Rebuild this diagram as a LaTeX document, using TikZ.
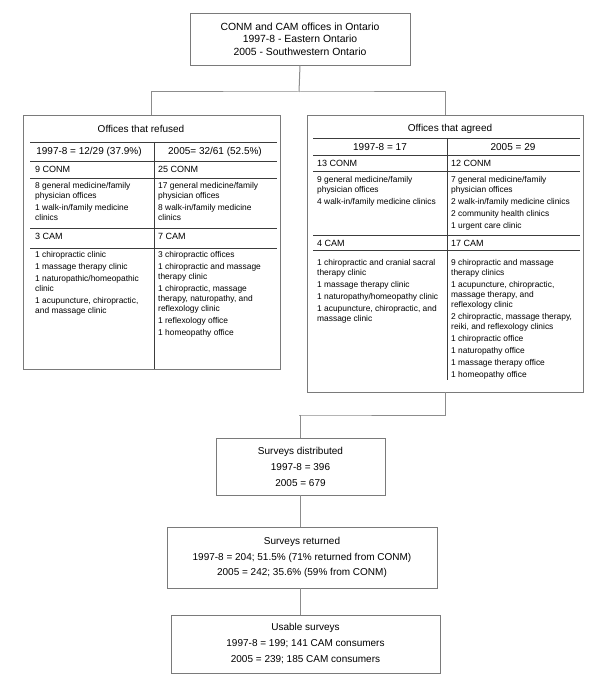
\documentclass[tikz,border=0pt]{standalone}
\usepackage{fontspec}
\setmainfont{Liberation Sans}
\definecolor{bordergray}{HTML}{7A7A7A}
\definecolor{rulegray}{HTML}{3C3C3C}
\definecolor{conngray}{HTML}{8C8C8C}
\tikzset{
  box/.style={draw=bordergray, line width=0.8pt},
  conn/.style={draw=conngray, line width=1pt},
  rulel/.style={draw=rulegray, line width=0.7pt},
  body/.style={font=\fontsize{8.4}{10}\selectfont, align=left, anchor=north west, inner sep=0pt},
  head/.style={font=\fontsize{10}{12}\selectfont, inner sep=0pt},
  sub/.style={font=\fontsize{9}{11}\selectfont, anchor=west, inner sep=0pt},
}
\begin{document}
\begin{tikzpicture}[x=1pt,y=-1pt]
\useasboundingbox (0,0) rectangle (600,692);

% top box
\node[box, minimum width=220, minimum height=52, align=center,
      font=\fontsize{10.4}{12.5}\selectfont] (top) at (300,39)
  {CONM and CAM offices in Ontario\\1997-8 - Eastern Ontario\\2005 - Southwestern Ontario};

% left table
\node[box, minimum width=257, minimum height=254] (left) at (151.5,242) {};
\draw[rulel] (30,142) -- (277,142);
\draw[rulel] (30,161) -- (277,161);
\draw[rulel] (30,178) -- (277,178);
\draw[rulel] (30,228) -- (277,228);
\draw[rulel] (30,248) -- (277,248);
\draw[rulel] (154,142) -- (154,369);
\node[head] (ltitle) at (141,129) {Offices that refused};
\node[head] (lyear1) at (89,152) {1997-8 = 12/29 (37.9\%)};
\node[head] (lyear2) at (215,152) {2005= 32/61 (52.5\%)};
\node[sub] (lconm1) at (35,169) {9 CONM};
\node[sub] (lconm2) at (158,169) {25 CONM};
\node[body] (ld1) at (35,182.5) {8 general medicine/family\\physician offices\\[2pt]1 walk-in/family medicine\\clinics};
\node[body] (ld2) at (158,182.5) {17 general medicine/family\\physician offices\\[2pt]8 walk-in/family medicine\\clinics};
\node[sub] (lcam1) at (35,236) {3 CAM};
\node[sub] (lcam2) at (158,236) {7 CAM};
\node[body] (lc1) at (35,251.5) {1 chiropractic clinic\\[2pt]1 massage therapy clinic\\[2pt]1 naturopathic/homeopathic\\clinic\\[2pt]1 acupuncture, chiropractic,\\and massage clinic};
\node[body] (lc2) at (158,251.5) {3 chiropractic offices\\[2pt]1 chiropractic and massage\\therapy clinic\\[2pt]1 chiropractic, massage\\therapy, naturopathy, and\\reflexology clinic\\[2pt]1 reflexology office\\[2pt]1 homeopathy office};

% right table
\node[box, minimum width=276, minimum height=277] (right) at (445,253.5) {};
\draw[rulel] (313,138) -- (580,138);
\draw[rulel] (313,155) -- (580,155);
\draw[rulel] (313,171) -- (580,171);
\draw[rulel] (313,235) -- (580,235);
\draw[rulel] (313,250) -- (580,250);
\draw[rulel] (447,138) -- (447,380);
\node[head] (rtitle) at (450,129) {Offices that agreed};
\node[head] (ryear1) at (380,147) {1997-8 = 17};
\node[head] (ryear2) at (513,147) {2005 = 29};
\node[sub] (rconm1) at (317,163) {13 CONM};
\node[sub] (rconm2) at (451,163) {12 CONM};
\node[body] (rd1) at (317,176.5) {9 general medicine/family\\physician offices\\[2pt]4 walk-in/family medicine clinics};
\node[body] (rd2) at (451,176.5) {7 general medicine/family\\physician offices\\[2pt]2 walk-in/family medicine clinics\\[2pt]2 community health clinics\\[2pt]1 urgent care clinic};
\node[sub] (rcam1) at (317,243) {4 CAM};
\node[sub] (rcam2) at (451,243) {17 CAM};
\node[body] (rc1) at (317,259.5) {1 chiropractic and cranial sacral\\therapy clinic\\[2pt]1 massage therapy clinic\\[2pt]1 naturopathy/homeopathy clinic\\[2pt]1 acupuncture, chiropractic, and\\massage clinic};
\node[body] (rc2) at (451,259.5) {9 chiropractic and massage\\therapy clinics\\[2pt]1 acupuncture, chiropractic,\\massage therapy, and\\reflexology clinic\\[2pt]2 chiropractic, massage therapy,\\reiki, and reflexology clinics\\[2pt]1 chiropractic office\\[2pt]1 naturopathy office\\[2pt]1 massage therapy office\\[2pt]1 homeopathy office};

% lower boxes
\node[box, minimum width=169, minimum height=57, align=center,
      font=\fontsize{10}{16}\selectfont] (dist) at (300.5,466.5)
  {Surveys distributed\\1997-8 = 396\\2005 = 679};
\node[box, minimum width=270, minimum height=61, align=center,
      font=\fontsize{10}{15.5}\selectfont] (ret) at (302,557.5)
  {Surveys returned\\1997-8 = 204; 51.5\% (71\% returned from CONM)\\2005 = 242; 35.6\% (59\% from CONM)};
\node[box, minimum width=269, minimum height=58, align=center,
      font=\fontsize{10}{16}\selectfont] (use) at (305.5,644)
  {Usable surveys\\1997-8 = 199; 141 CAM consumers\\2005 = 239; 185 CAM consumers};

% connectors
\coordinate (j1) at (299,92);
\coordinate (j2) at (299,415);
\draw[conn] (top.south) -- (j1);
\draw[conn] (left.north) |- (j1) -| (right.north);
\draw[conn] (right.south) |- (j2) -| (dist.north);
\draw[conn] (dist.south) -- (dist.south |- ret.north);
\draw[conn] (ret.south -| dist.south) -- (use.north -| dist.south);
\end{tikzpicture}
\end{document}
